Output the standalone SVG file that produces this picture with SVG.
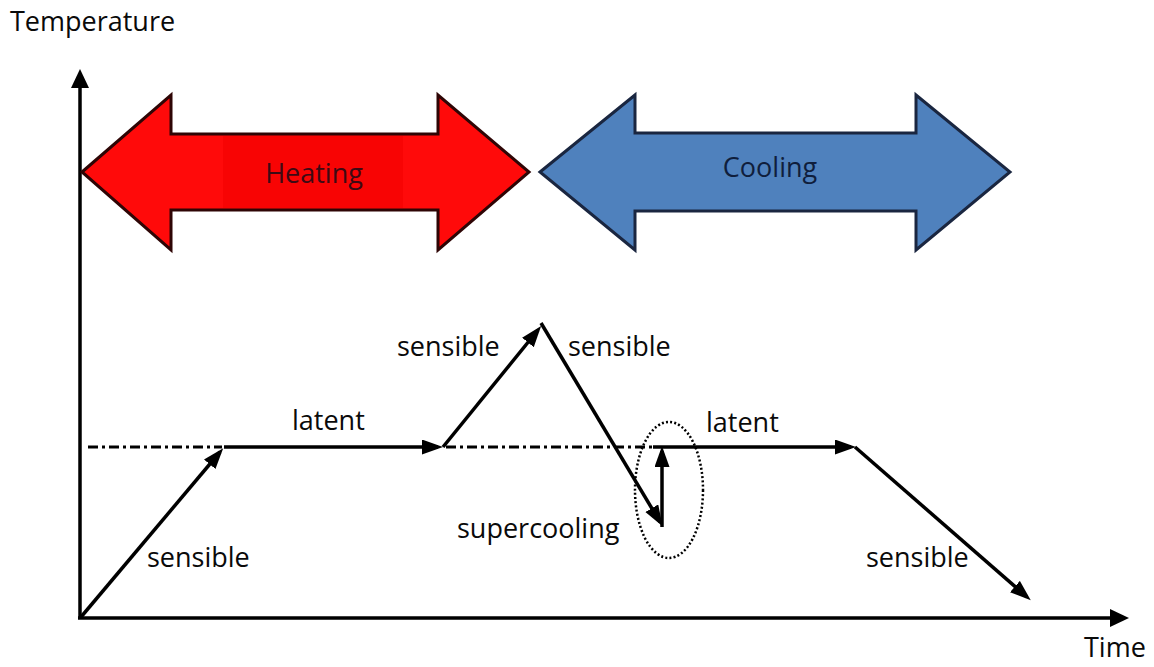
<svg xmlns="http://www.w3.org/2000/svg" width="1154" height="667" viewBox="0 0 1154 667">
  <style>
    .lbl { font-family: "Open Sans", "Liberation Sans", sans-serif; font-size: 27px; fill: #0a0a0a; }
    .axis { stroke: #000; stroke-width: 3.5; fill: none; }
    .seg { stroke: #000; stroke-width: 3.5; fill: none; marker-end: url(#head); }
    .ref { stroke: #000; stroke-width: 3; fill: none; stroke-dasharray: 10 4 3 4; }
  </style>
  <defs>
    <marker id="head" markerUnits="userSpaceOnUse" markerWidth="22" markerHeight="16" refX="16" refY="7.5" orient="auto">
      <path d="M0,0 L21,7.5 L0,15 Z" fill="#000"/>
    </marker>
    <marker id="axisHead" markerUnits="userSpaceOnUse" markerWidth="20" markerHeight="20" refX="14" refY="9" orient="auto">
      <path d="M0,0 L19,9 L0,18 Z" fill="#000"/>
    </marker>
  </defs>

  <rect width="1154" height="667" fill="#fff"/>

  <!-- axes -->
  <g id="axes">
    <line class="axis" x1="80" y1="619" x2="80" y2="74" marker-end="url(#axisHead)"/>
    <line class="axis" x1="78" y1="618" x2="1124" y2="618" marker-end="url(#axisHead)"/>
    <text class="lbl" x="10" y="31">Temperature</text>
    <text class="lbl" x="1084" y="657">Time</text>
  </g>

  <!-- heating band -->
  <g id="heating">
    <path d="M82,172 L171,95 L171,134 L438,134 L438,95 L529,172 L438,250 L438,210 L171,210 L171,250 Z" fill="#ff0a0a" stroke="#2e0505" stroke-width="3" stroke-linejoin="miter"/>
    <rect x="223" y="136" width="180" height="72" fill="#f80404"/>
    <text class="lbl" x="314" y="183" text-anchor="middle" style="fill:#3d0a14">Heating</text>
  </g>

  <!-- cooling band -->
  <g id="cooling">
    <path d="M540,172 L635,95 L635,133 L916,133 L916,95 L1010,172 L916,250 L916,211 L635,211 L635,250 Z" fill="#4f81bd" stroke="#1a2640" stroke-width="3" stroke-linejoin="miter"/>
    <text class="lbl" x="770" y="177" text-anchor="middle" style="fill:#0f1e3c">Cooling</text>
  </g>

  <!-- phase-change temperature reference -->
  <g id="reference">
    <line class="ref" x1="88" y1="447" x2="222" y2="447"/>
    <line class="ref" x1="446" y1="447" x2="653" y2="447"/>
    <ellipse cx="669" cy="490" rx="34" ry="68" fill="none" stroke="#000" stroke-width="2.5" stroke-dasharray="2 2.2"/>
  </g>

  <!-- temperature path -->
  <g id="connectors">
    <line class="seg" x1="81" y1="617" x2="220" y2="452"/>
    <line class="seg" x1="224" y1="447" x2="438" y2="447"/>
    <line class="seg" x1="443" y1="447" x2="538" y2="330"/>
    <line class="seg" x1="541" y1="323" x2="660" y2="522"/>
    <line class="seg" x1="662" y1="527" x2="662" y2="451"/>
    <line class="seg" x1="653" y1="447" x2="851" y2="447"/>
    <line class="seg" x1="855" y1="447" x2="1027" y2="597"/>
  </g>

  <!-- labels -->
  <g id="labels">
    <text class="lbl" x="147" y="567">sensible</text>
    <text class="lbl" x="292" y="430">latent</text>
    <text class="lbl" x="397" y="356">sensible</text>
    <text class="lbl" x="568" y="356">sensible</text>
    <text class="lbl" x="457" y="538">supercooling</text>
    <text class="lbl" x="706" y="432">latent</text>
    <text class="lbl" x="866" y="567">sensible</text>
  </g>
</svg>
